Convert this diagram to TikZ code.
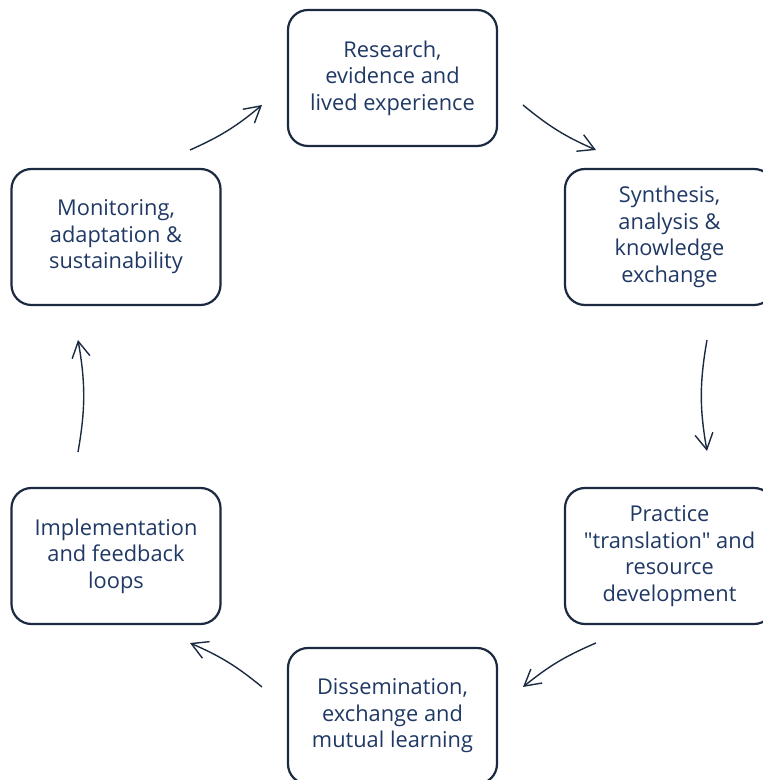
\documentclass[tikz,border=0pt]{standalone}
\usepackage{fontspec}
\setmainfont{Open Sans}[Ligatures=TeXOff]
\usetikzlibrary{arrows.meta}
\definecolor{navy}{HTML}{1B2A41}
\definecolor{txt}{HTML}{1F3864}
\begin{document}
\begin{tikzpicture}[x=1pt,y=1pt,
 box/.style={draw=navy, line width=2.2pt, rounded corners=20pt, minimum width=209pt, minimum height=136pt, align=center, text=txt, font=\fontsize{21.8}{26.5}\selectfont, inner sep=0pt},
 flow/.style={draw=navy, line width=1.4pt, -{Straight Barb[length=16pt,width=18pt,line width=1.4pt]}}]
\useasboundingbox (0,0) rectangle (763,780);
\clip (0,0) rectangle (763,780);
\node[box] (res) at (392.5,702) {Research,\\evidence and\\lived experience};
\node[box] (syn) at (669.5,543) {Synthesis,\\analysis \&\\knowledge\\exchange};
\node[box] (pra) at (669.5,224) {Practice\\"translation" and\\resource\\development};
\node[box] (dis) at (392.5,64) {Dissemination,\\exchange and\\mutual learning};
\node[box] (imp) at (116,224) {Implementation\\and feedback\\loops};
\node[box] (mon) at (116,543) {Monitoring,\\adaptation \&\\sustainability};
\coordinate (a1s) at (523,675); \coordinate (a1e) at (596,630);
\coordinate (a2s) at (707,440); \coordinate (a2e) at (707,329);
\coordinate (a3s) at (596,137); \coordinate (a3e) at (523,93);
\coordinate (a4s) at (262,93);  \coordinate (a4e) at (190,137);
\coordinate (a5s) at (78,328);  \coordinate (a5e) at (78,440);
\coordinate (a6s) at (190,630); \coordinate (a6e) at (262,675);
\draw[flow] (a1s) to[bend right=8] (a1e);
\draw[flow] (a2s) to[bend right=10] (a2e);
\draw[flow] (a3s) to[bend right=8] (a3e);
\draw[flow] (a4s) to[bend right=8] (a4e);
\draw[flow] (a5s) to[bend right=10] (a5e);
\draw[flow] (a6s) to[bend right=8] (a6e);
\end{tikzpicture}
\end{document}
